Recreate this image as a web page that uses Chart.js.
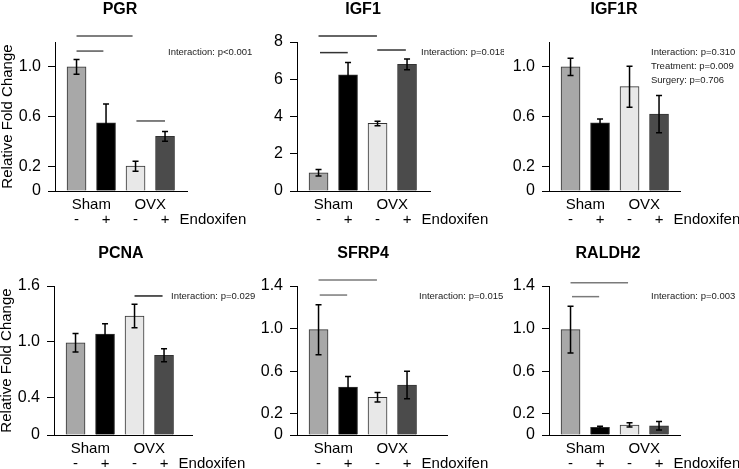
<!DOCTYPE html>
<html><head><meta charset="utf-8">
<script src="https://cdn.jsdelivr.net/npm/chart.js@4.4.1/dist/chart.umd.min.js"></script>
<style>
html,body{margin:0;padding:0;background:#fff;}
#wrap{position:relative;width:739px;height:469px;overflow:hidden;background:#fff;}
#wrap canvas{position:absolute;}
</style></head><body><div id="wrap"></div>
<script>
// ---------- shared labels ----------
const groupLabels = ['Sham', 'OVX'];
const treatmentLabels = ['-', '+', '-', '+'];
const treatmentName = 'Endoxifen';
const yAxisTitle = 'Relative Fold Change';
const barColors = ['#a8a8a8', '#000000', '#e8e8e8', '#4b4b4b'];

// ---------- PGR ----------
const pgrValues = [1.0, 0.55, 0.20, 0.44];
const pgrErrors = [0.06, 0.15, 0.04, 0.04];
const pgrTicks = [0, 0.2, 0.6, 1.0];
const pgrTickLabels = ['0', '0.2', '0.6', '1.0'];
const pgrBrackets = [[0, 1.9, 1.248], [0, 0.91, 1.127], [2.03, 3, 0.564]];
const pgrStats = ['Interaction: p<0.001'];

// ---------- IGF1 ----------
const igf1Values = [0.98, 6.24, 3.63, 6.80];
const igf1Errors = [0.17, 0.66, 0.12, 0.29];
const igf1Ticks = [0, 2, 4, 6, 8];
const igf1TickLabels = ['0', '2', '4', '6', '8'];
const igf1Brackets = [[0, 1.98, 8.32], [0.05, 0.99, 7.43], [1.99, 2.96, 7.57]];
const igf1Stats = ['Interaction: p=0.018'];

// ---------- IGF1R ----------
const igf1rValues = [1.0, 0.55, 0.84, 0.62];
const igf1rErrors = [0.07, 0.03, 0.165, 0.15];
const igf1rTicks = [0, 0.2, 0.6, 1.0];
const igf1rTickLabels = ['0', '0.2', '0.6', '1.0'];
const igf1rBrackets = [];
const igf1rStats = ['Interaction: p=0.310', 'Treatment: p=0.009', 'Surgery: p=0.706'];

// ---------- PCNA ----------
const pcnaValues = [0.99, 1.085, 1.278, 0.856];
const pcnaErrors = [0.10, 0.11, 0.125, 0.07];
const pcnaTicks = [0, 0.4, 1.0, 1.6];
const pcnaTickLabels = ['0', '0.4', '1.0', '1.6'];
const pcnaBrackets = [[2, 2.95, 1.493]];
const pcnaStats = ['Interaction: p=0.029'];

// ---------- SFRP4 ----------
const sfrp4Values = [0.99, 0.45, 0.354, 0.47];
const sfrp4Errors = [0.235, 0.10, 0.045, 0.13];
const sfrp4Ticks = [0, 0.2, 0.6, 1.0, 1.4];
const sfrp4TickLabels = ['0', '0.2', '0.6', '1.0', '1.4'];
const sfrp4Brackets = [[0, 1.98, 1.456], [0.04, 0.97, 1.315]];
const sfrp4Stats = ['Interaction: p=0.015'];

// ---------- RALDH2 ----------
const raldh2Values = [0.99, 0.072, 0.094, 0.087];
const raldh2Errors = [0.22, 0.01, 0.02, 0.04];
const raldh2Ticks = [0, 0.2, 0.6, 1.0, 1.4];
const raldh2TickLabels = ['0', '0.2', '0.6', '1.0', '1.4'];
const raldh2Brackets = [[0, 1.95, 1.431], [0.05, 0.97, 1.30]];
const raldh2Stats = ['Interaction: p=0.003'];

// ---------- layout ----------
const FONT = "'Liberation Sans', Arial, Helvetica, sans-serif";
const CW = 262, CH = 235, AXIS_LEFT = 55, AXIS_TOP = 42, XAXIS_H = 44;
const BAR_STEP = 29.5, X_MIN = -0.73;

const panels = [
  {title:'PGR', values:pgrValues, errors:pgrErrors, ticks:pgrTicks, tickLabels:pgrTickLabels, yMax:1.2,
   brackets:pgrBrackets, bracketColor:'#555', stats:pgrStats, yTitle:true,
   left:0, top:0, plotW:132, titleX:120, statsX:168},
  {title:'IGF1', values:igf1Values, errors:igf1Errors, ticks:igf1Ticks, tickLabels:igf1TickLabels, yMax:8,
   brackets:igf1Brackets, bracketColor:'#333', stats:igf1Stats, yTitle:false,
   left:242, top:0, plotW:133, titleX:121, statsX:179},
  {title:'IGF1R', values:igf1rValues, errors:igf1rErrors, ticks:igf1rTicks, tickLabels:igf1rTickLabels, yMax:1.2,
   brackets:igf1rBrackets, bracketColor:'#333', stats:igf1rStats, yTitle:false,
   left:494, top:0, plotW:131, titleX:120, statsX:157},
  {title:'PCNA', values:pcnaValues, errors:pcnaErrors, ticks:pcnaTicks, tickLabels:pcnaTickLabels, yMax:1.6,
   brackets:pcnaBrackets, bracketColor:'#222', stats:pcnaStats, yTitle:true,
   left:-1, top:244, plotW:138, titleX:122, statsX:172},
  {title:'SFRP4', values:sfrp4Values, errors:sfrp4Errors, ticks:sfrp4Ticks, tickLabels:sfrp4TickLabels, yMax:1.4,
   brackets:sfrp4Brackets, bracketColor:'#7a7a7a', stats:sfrp4Stats, yTitle:false,
   left:242, top:244, plotW:150, titleX:121, statsX:177},
  {title:'RALDH2', values:raldh2Values, errors:raldh2Errors, ticks:raldh2Ticks, tickLabels:raldh2TickLabels, yMax:1.4,
   brackets:raldh2Brackets, bracketColor:'#7a7a7a', stats:raldh2Stats, yTitle:false,
   left:494, top:244, plotW:131, titleX:114, statsX:157}
];

function makeDecor(p, k) {
  return {
    id: 'decor' + k,
    afterDraw(chart) {
      const ctx = chart.ctx, xs = chart.scales.x, ys = chart.scales.y, area = chart.chartArea;
      ctx.save();
      // error bars
      ctx.strokeStyle = '#000'; ctx.lineWidth = 1.5;
      p.values.forEach((v, i) => {
        const x = xs.getPixelForValue(i);
        const y1 = ys.getPixelForValue(v + p.errors[i]);
        const y2 = ys.getPixelForValue(Math.max(0, v - p.errors[i]));
        ctx.beginPath();
        ctx.moveTo(x, y1); ctx.lineTo(x, y2);
        ctx.moveTo(x - 3, y1); ctx.lineTo(x + 3, y1);
        ctx.moveTo(x - 3, y2); ctx.lineTo(x + 3, y2);
        ctx.stroke();
      });
      // significance brackets
      ctx.strokeStyle = p.bracketColor; ctx.lineWidth = 1.5;
      p.brackets.forEach(([a, b, v]) => {
        const y = ys.getPixelForValue(v);
        ctx.beginPath();
        ctx.moveTo(xs.getPixelForValue(a), y);
        ctx.lineTo(xs.getPixelForValue(b), y);
        ctx.stroke();
      });
      // title
      ctx.fillStyle = '#000';
      ctx.textBaseline = 'alphabetic';
      ctx.textAlign = 'center';
      ctx.font = 'bold 16px ' + FONT;
      ctx.fillText(p.title, p.titleX, 14);
      // group labels
      ctx.font = '15px ' + FONT;
      groupLabels.forEach((g, j) => {
        ctx.fillText(g, xs.getPixelForValue(2 * j + 0.5), area.bottom + 17.5);
      });
      treatmentLabels.forEach((t, i) => {
        ctx.fillText(t, xs.getPixelForValue(i), area.bottom + 32.5);
      });
      ctx.textAlign = 'left';
      ctx.fillText(treatmentName, xs.getPixelForValue(3) + 14.5, area.bottom + 32.5);
      // stats
      ctx.fillStyle = '#222';
      ctx.font = '9.5px ' + FONT;
      p.stats.forEach((s, j) => {
        ctx.fillText(s, p.statsX, 55 + 14 * j);
      });
      ctx.restore();
    }
  };
}

const wrap = document.getElementById('wrap');
panels.forEach((p, k) => {
  const cv = document.createElement('canvas');
  cv.width = CW; cv.height = CH;
  cv.style.width = CW + 'px'; cv.style.height = CH + 'px';
  cv.style.left = p.left + 'px'; cv.style.top = p.top + 'px';
  wrap.appendChild(cv);
  const xMax = X_MIN + p.plotW / BAR_STEP;
  new Chart(cv, {
    type: 'bar',
    data: {
      datasets: [{
        data: p.values.map((v, i) => ({x: i, y: v})),
        backgroundColor: barColors,
        borderColor: '#333',
        borderWidth: 1,
        barThickness: 19
      }]
    },
    options: {
      responsive: false,
      animation: false,
      devicePixelRatio: 1,
      events: [],
      layout: {padding: {left: 0, top: AXIS_TOP, right: CW - AXIS_LEFT - p.plotW, bottom: 0}},
      plugins: {legend: {display: false}, tooltip: {enabled: false}, title: {display: false}},
      scales: {
        x: {
          type: 'linear', min: X_MIN, max: xMax, offset: false,
          ticks: {display: false},
          grid: {display: false},
          border: {display: true, color: '#000', width: 1},
          afterFit: s => { s.height = XAXIS_H; }
        },
        y: {
          type: 'linear', min: 0, max: p.yMax,
          afterBuildTicks: s => { s.ticks = p.ticks.map(v => ({value: v})); },
          ticks: {
            autoSkip: false, padding: 7, color: '#000',
            font: {size: 16, family: FONT},
            callback: (v, i) => p.tickLabels[i]
          },
          grid: {display: true, drawOnChartArea: false, drawTicks: true, tickLength: 7, color: '#000', lineWidth: 1},
          border: {display: true, color: '#000', width: 1},
          title: {display: p.yTitle, text: yAxisTitle, color: '#000', padding: 0,
                  font: {size: 15, family: FONT, lineHeight: 1}},
          afterFit: s => { s.width = AXIS_LEFT; }
        }
      }
    },
    plugins: [makeDecor(p, k)]
  });
});
</script>
</body></html>
